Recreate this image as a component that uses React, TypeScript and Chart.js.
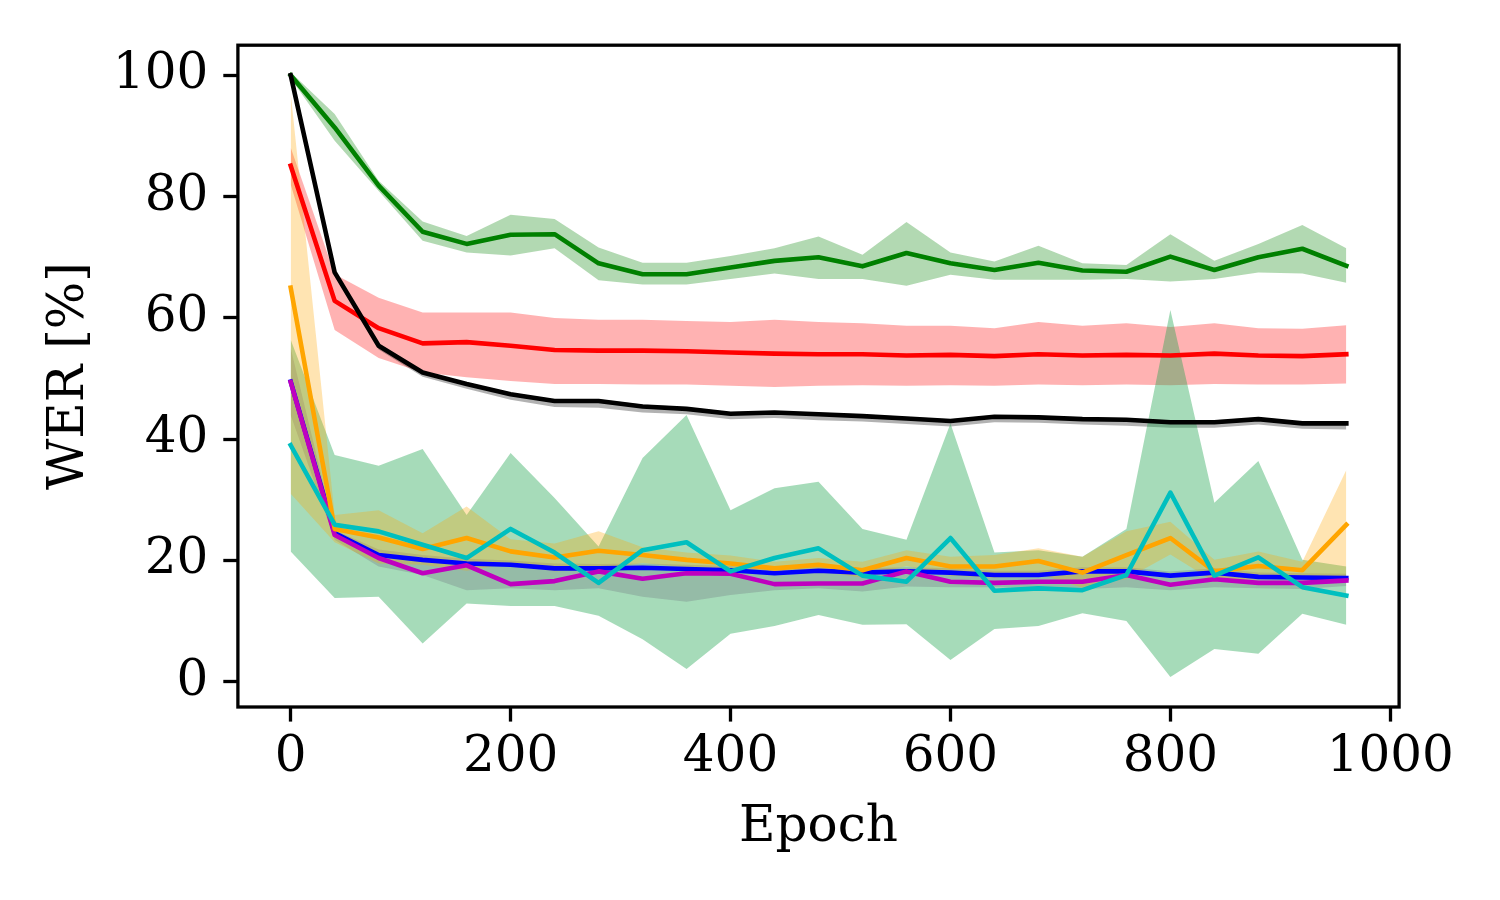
import { useEffect, useRef } from "react";
import { Chart, registerables } from "chart.js";

Chart.register(...registerables);

// ---------------- data ----------------
const epochs = [0, 40, 80, 120, 160, 200, 240, 280, 320, 360, 400, 440, 480, 520, 560, 600, 640, 680, 720, 760, 800, 840, 880, 920, 960];

const greenMean = [100, 91.4, 81.8, 74.2, 72.2, 73.7, 73.8, 69.0, 67.2, 67.2, 68.3, 69.4, 70.0, 68.5, 70.7, 69.0, 67.9, 69.1, 67.8, 67.6, 70.1, 67.9, 70.0, 71.4, 68.6];
const greenUpper = [100.5, 93.6, 82.6, 75.9, 73.5, 77.0, 76.3, 71.6, 69.1, 69.1, 70.2, 71.5, 73.4, 70.4, 75.8, 70.8, 69.3, 71.9, 69.0, 68.7, 73.8, 69.4, 72.2, 75.3, 71.5];
const greenLower = [99.5, 89.2, 80.9, 72.7, 70.8, 70.3, 71.5, 66.2, 65.5, 65.5, 66.4, 67.3, 66.4, 66.4, 65.3, 67.1, 66.3, 66.3, 66.3, 66.4, 66.0, 66.4, 67.5, 67.3, 65.8];

const redMean = [85.1, 62.8, 58.3, 55.8, 56.0, 55.4, 54.7, 54.6, 54.6, 54.5, 54.3, 54.1, 54.0, 54.0, 53.8, 53.9, 53.7, 54.0, 53.8, 53.9, 53.8, 54.1, 53.8, 53.7, 54.0];
const redUpper = [88.1, 67.2, 63.3, 60.9, 60.9, 60.9, 60.0, 59.7, 59.7, 59.5, 59.3, 59.7, 59.3, 59.1, 58.7, 58.7, 58.3, 59.3, 58.7, 59.1, 58.5, 59.1, 58.3, 58.2, 58.8];
const redLower = [82.0, 58.0, 53.4, 51.0, 50.2, 49.6, 49.1, 49.1, 49.0, 49.0, 48.8, 48.6, 48.8, 48.9, 48.8, 48.9, 48.8, 49.0, 48.9, 49.0, 48.9, 49.1, 49.0, 49.0, 49.2];

const blackMean = [100, 67.5, 55.4, 51.0, 49.1, 47.4, 46.3, 46.3, 45.4, 45.0, 44.2, 44.4, 44.1, 43.8, 43.4, 43.0, 43.7, 43.6, 43.3, 43.2, 42.8, 42.8, 43.3, 42.6, 42.6];
const blackUpper = [100.3, 67.9, 55.8, 51.3, 49.4, 47.7, 46.6, 46.6, 45.7, 45.3, 44.5, 44.7, 44.4, 44.1, 43.7, 43.3, 44.0, 43.9, 43.6, 43.5, 43.1, 43.1, 43.6, 42.9, 43.0];
const blackLower = [99.7, 67.0, 54.8, 50.3, 48.3, 46.5, 45.3, 45.2, 44.4, 44.1, 43.3, 43.5, 43.1, 42.9, 42.5, 42.1, 42.8, 42.7, 42.4, 42.2, 41.9, 41.9, 42.4, 41.7, 41.6];

const blueMean = [49.5, 24.5, 20.9, 20.1, 19.5, 19.3, 18.7, 18.7, 18.8, 18.6, 18.4, 17.9, 18.3, 18.0, 18.2, 18.0, 17.6, 17.6, 18.2, 18.2, 17.5, 18.0, 17.3, 17.2, 17.1];
const greyUpper = [55.0, 25.0, 21.8, 20.9, 20.3, 20.0, 19.5, 19.4, 19.5, 19.3, 19.1, 18.6, 19.0, 18.7, 18.9, 18.7, 18.3, 18.3, 18.9, 18.9, 18.2, 18.7, 18.0, 17.9, 17.8];
const greyLower = [44.0, 23.4, 19.0, 17.6, 15.1, 15.4, 15.1, 15.4, 14.0, 13.2, 14.3, 15.1, 15.4, 14.9, 15.7, 15.6, 15.6, 15.4, 15.3, 15.6, 15.1, 15.6, 15.4, 15.3, 15.8];

const magentaMean = [49.4, 24.2, 20.4, 17.9, 19.2, 16.1, 16.6, 18.2, 17.0, 17.9, 17.8, 16.1, 16.2, 16.2, 18.2, 16.5, 16.3, 16.5, 16.5, 17.6, 16.0, 16.9, 16.3, 16.3, 16.7];

const orangeMean = [65.0, 25.2, 23.8, 21.9, 23.7, 21.5, 20.5, 21.6, 20.9, 20.1, 19.5, 18.7, 19.3, 18.4, 20.4, 19.0, 19.0, 19.9, 18.0, 20.9, 23.7, 18.2, 19.1, 18.4, 25.9];
const orangeUpper = [97.1, 27.5, 28.3, 24.5, 28.9, 23.5, 22.8, 24.8, 22.2, 21.3, 20.8, 19.8, 20.4, 19.8, 21.7, 20.6, 20.9, 22.0, 20.6, 24.8, 26.4, 20.1, 21.5, 19.8, 34.9];
const orangeLower = [31.0, 23.0, 19.5, 19.3, 18.3, 19.5, 18.2, 18.5, 19.6, 18.9, 18.2, 17.6, 18.2, 17.2, 19.1, 17.5, 17.2, 17.8, 15.5, 17.0, 21.0, 16.5, 16.9, 17.0, 16.9];

const cyanMean = [39.0, 25.9, 24.8, 22.6, 20.4, 25.2, 21.3, 16.3, 21.7, 23.0, 18.2, 20.4, 22.0, 17.5, 16.5, 23.7, 15.0, 15.4, 15.1, 17.6, 31.2, 17.5, 20.5, 15.6, 14.2];
const cyanUpper = [56.4, 37.4, 35.6, 38.4, 27.5, 37.7, 30.3, 22.3, 36.9, 44.0, 28.3, 31.9, 33.0, 25.2, 23.4, 42.6, 21.3, 21.7, 20.6, 25.2, 61.3, 29.5, 36.4, 20.1, 19.0];
const cyanLower = [21.5, 13.8, 14.0, 6.3, 12.9, 12.5, 12.5, 10.9, 7.0, 2.1, 7.9, 9.2, 11.0, 9.4, 9.5, 3.6, 8.7, 9.2, 11.3, 10.0, 0.8, 5.4, 4.6, 11.2, 9.4];

const xTicks = [0, 200, 400, 600, 800, 1000];
const yTicks = [0, 20, 40, 60, 80, 100];
const xLabel = "Epoch";
const yLabel = "WER [%]";

const FONT = "'DejaVu Serif', 'Liberation Serif', serif";

export default function App() {
  const ref = useRef<HTMLCanvasElement>(null);

  useEffect(() => {
    document.body.style.margin = "0";
    const canvas = ref.current!;
    const pts = (ys: number[]) => epochs.map((x, i) => ({ x, y: ys[i] }));

    const datasets: any[] = [];
    let drawIndex = 0;
    const nextOrder = () => 1000 - drawIndex++;

    const addBand = (upper: number[], lower: number[], color: string) => {
      const order = nextOrder();
      const idx = datasets.length;
      datasets.push({
        data: pts(upper),
        borderWidth: 0,
        borderColor: "rgba(0,0,0,0)",
        pointRadius: 0,
        backgroundColor: color,
        fill: idx + 1,
        order,
      });
      datasets.push({
        data: pts(lower),
        borderWidth: 0,
        borderColor: "rgba(0,0,0,0)",
        pointRadius: 0,
        fill: false,
        order,
      });
    };
    const addLine = (ys: number[], color: string) => {
      datasets.push({
        data: pts(ys),
        borderColor: color,
        borderWidth: 4.6,
        pointRadius: 0,
        fill: false,
        borderJoinStyle: "round",
        borderCapStyle: "square",
        order: nextOrder(),
      });
    };

    // bands (below all lines, like matplotlib's zorder)
    addBand(greenUpper, greenLower, "rgba(0,128,0,0.3)");
    addBand(redUpper, redLower, "rgba(255,0,0,0.3)");
    addBand(blackUpper, blackLower, "rgba(0,0,0,0.3)");
    addBand(cyanUpper, cyanLower, "rgba(20,160,70,0.38)");
    addBand(greyUpper, greyLower, "rgba(90,85,110,0.24)");
    addBand(orangeUpper, orangeLower, "rgba(255,165,0,0.3)");
    // lines
    addLine(greenMean, "#008000");
    addLine(redMean, "#ff0000");
    addLine(blackMean, "#000000");
    addLine(blueMean, "#0000ff");
    addLine(magentaMean, "#bf00bf");
    addLine(orangeMean, "#ffa500");
    addLine(cyanMean, "#00bfbf");

    const framePlugin = {
      id: "frame",
      afterDatasetsDraw(chart: any) {
        const { ctx, chartArea } = chart;
        ctx.save();
        ctx.strokeStyle = "#000";
        ctx.lineWidth = 3.3;
        ctx.strokeRect(chartArea.left, chartArea.top, chartArea.right - chartArea.left, chartArea.bottom - chartArea.top);
        ctx.restore();
      },
    };

    const tickFont = { family: FONT, size: 50 };
    const grid = {
      display: true,
      drawOnChartArea: false,
      drawTicks: true,
      tickLength: 14.6,
      tickWidth: 3.3,
      tickColor: "#000",
    };

    const chart = new Chart(canvas, {
      type: "line",
      data: { datasets },
      plugins: [framePlugin],
      options: {
        animation: false,
        responsive: false,
        devicePixelRatio: 1,
        events: [],
        layout: { padding: { left: 0, top: 45.2, right: 100.9, bottom: 0 } },
        elements: { line: { tension: 0 } },
        plugins: {
          legend: { display: false },
          tooltip: { enabled: false },
          filler: { propagate: false },
        },
        scales: {
          x: {
            type: "linear",
            min: -48,
            max: 1008,
            afterBuildTicks: (s: any) => {
              s.ticks = xTicks.map((v) => ({ value: v }));
            },
            afterFit: (s: any) => {
              s.height = 193;
            },
            grid,
            border: { display: false },
            ticks: {
              color: "#000",
              font: tickFont,
              padding: 6,
              maxRotation: 0,
              autoSkip: false,
              callback: (v: any) => String(v),
            },
            title: {
              display: true,
              text: xLabel,
              color: "#000",
              font: { family: FONT, size: 50 },
              padding: { top: 0, bottom: 42 },
            },
          },
          y: {
            type: "linear",
            min: -4.16,
            max: 104.96,
            afterBuildTicks: (s: any) => {
              s.ticks = yTicks.map((v) => ({ value: v }));
            },
            afterFit: (s: any) => {
              s.width = 237.9;
            },
            grid,
            border: { display: false },
            ticks: {
              color: "#000",
              font: tickFont,
              padding: 15,
              autoSkip: false,
              callback: (v: any) => String(v),
            },
            title: {
              display: true,
              text: yLabel,
              color: "#000",
              font: { family: FONT, size: 50 },
              padding: { top: 40, bottom: 0 },
            },
          },
        },
      } as any,
    });

    return () => chart.destroy();
  }, []);

  return (
    <div style={{ width: 1500, height: 900, background: "#fff" }}>
      <canvas ref={ref} width={1500} height={900} style={{ display: "block" }} />
    </div>
  );
}
